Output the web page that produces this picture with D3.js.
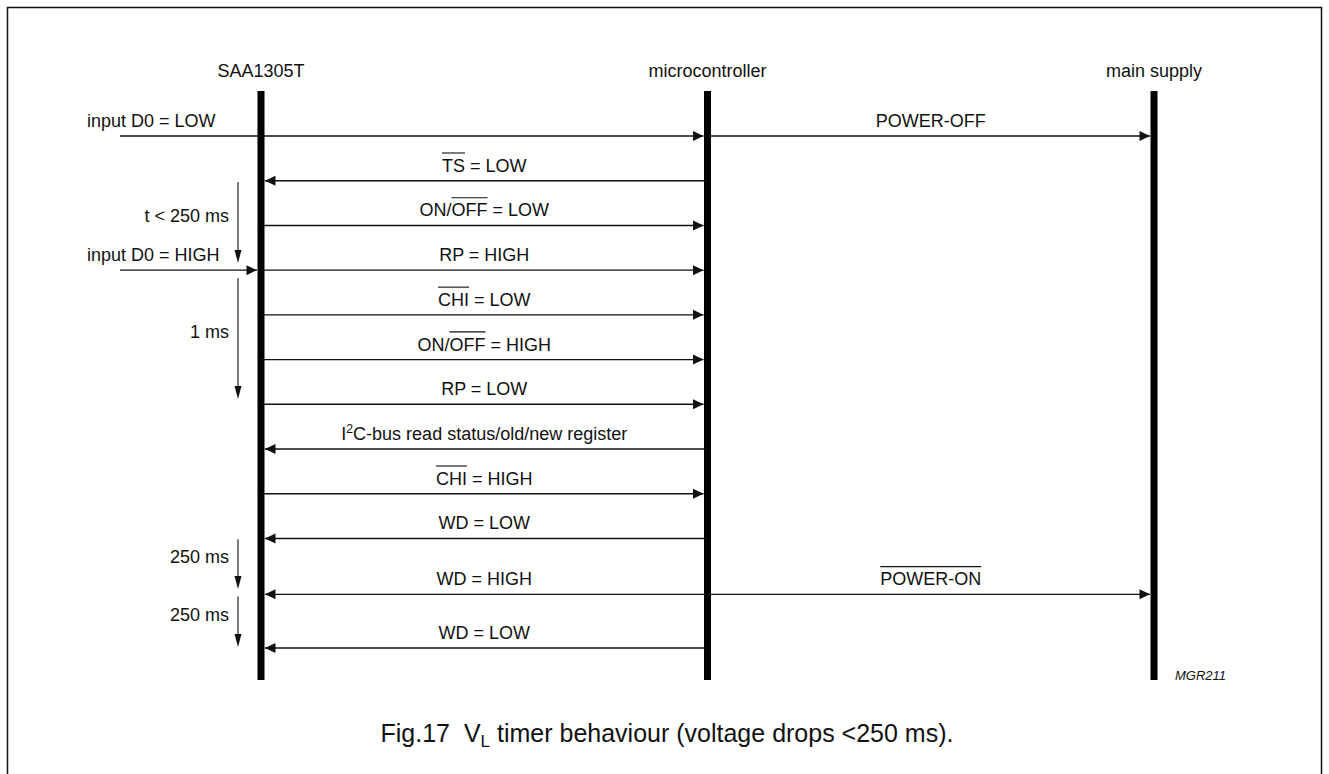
<!DOCTYPE html>
<html>
<head>
<meta charset="utf-8">
<script src="https://cdn.jsdelivr.net/npm/d3@7"></script>
<style>
  html, body { margin: 0; padding: 0; background: #fff; }
  svg { display: block; font-family: "Liberation Sans", Arial, Helvetica, sans-serif; }
</style>
</head>
<body>
<svg id="chart" width="1329" height="774"></svg>
<script>
// lifelines, left to right
const participants = ["SAA1305T", "microcontroller", "main supply"];

// message rows (slot = position in sequence)
const msgSlots = [0, 1, 2, 3, 4, 5, 6, 7, 8, 9, 10.25, 11.45];
const msgFrom = ["SAA1305T", "microcontroller", "SAA1305T", "SAA1305T", "SAA1305T", "SAA1305T",
  "SAA1305T", "microcontroller", "SAA1305T", "microcontroller", "microcontroller", "microcontroller"];
const msgTo = ["microcontroller", "SAA1305T", "microcontroller", "microcontroller", "microcontroller", "microcontroller",
  "microcontroller", "SAA1305T", "microcontroller", "SAA1305T", "SAA1305T", "SAA1305T"];
// label segments: [text, style]  style: "over" = overline, "sup" = superscript
const msgLabels = [
  [],
  [["TS", "over"], [" = LOW"]],
  [["ON/"], ["OFF", "over"], [" = LOW"]],
  [["RP = HIGH"]],
  [["CHI", "over"], [" = LOW"]],
  [["ON/"], ["OFF", "over"], [" = HIGH"]],
  [["RP = LOW"]],
  [["I"], ["2", "sup"], ["C-bus read status/old/new register"]],
  [["CHI", "over"], [" = HIGH"]],
  [["WD = LOW"]],
  [["WD = HIGH"]],
  [["WD = LOW"]]
];

// microcontroller -> main supply
const supplySlots = [0, 10.25];
const supplyLabels = [[["POWER-OFF"]], [["POWER-ON", "over"]]];

// external inputs into SAA1305T
const inputSlots = [0, 3];
const inputLabels = ["input D0 = LOW", "input D0 = HIGH"];
const inputHasHead = [false, true];

// timing intervals at the left of SAA1305T
const timingLabels = ["t < 250 ms", "1 ms", "250 ms", "250 ms"];
const timingStart = [1.03, 3.18, 9.02, 10.3];
const timingEnd = [2.84, 5.88, 10.13, 11.43];

const svg = d3.select("#chart");
const ink = "#111";
const labelSize = 18;
const lifeW = 7;

const x = d3.scalePoint().domain(participants).range([261, 1154]);
const y = d3.scaleLinear().domain([0, 11.45]).range([136, 648]);

// frame (open at the bottom)
svg.append("path")
  .attr("d", "M7.5,780V7.5H1321.5V780")
  .attr("fill", "none").attr("stroke", ink).attr("stroke-width", 1.5);

// headers + lifelines
svg.selectAll(".head")
  .data(participants)
  .join("text")
  .attr("class", "head")
  .attr("x", (d) => x(d))
  .attr("y", 77)
  .attr("text-anchor", "middle")
  .attr("font-size", labelSize)
  .attr("fill", ink)
  .text((d) => d);

svg.selectAll(".life")
  .data(participants)
  .join("rect")
  .attr("class", "life")
  .attr("x", (d) => x(d) - lifeW / 2)
  .attr("y", 91)
  .attr("width", lifeW)
  .attr("height", 680 - 91)
  .attr("fill", "#000");

const linesG = svg.append("g");
const headsG = svg.append("g");
const textG = svg.append("g");

// horizontal arrow: tip at x2
function hArrow(x1, x2, yy, head = true) {
  linesG.append("line")
    .attr("x1", x1).attr("x2", x2).attr("y1", yy).attr("y2", yy)
    .attr("stroke", ink).attr("stroke-width", 1.4);
  if (!head) return;
  const dir = x2 > x1 ? 1 : -1;
  headsG.append("path")
    .attr("d", `M${x2},${yy}L${x2 - dir * 10.5},${yy - 5}L${x2 - dir * 10.5},${yy + 5}Z`)
    .attr("fill", ink);
}

// rich label with overline / superscript segments
function richLabel(segs, cx, by, size, anchor = "middle") {
  const t = textG.append("text")
    .attr("x", cx).attr("y", by)
    .attr("text-anchor", anchor)
    .attr("font-size", size)
    .attr("fill", ink)
    .attr("xml:space", "preserve");
  const overs = [];
  let idx = 0;
  let lift = 0;
  for (const [str, style] of segs) {
    const sp = t.append("tspan").text(str);
    const want = style === "sup" ? -7 : 0;
    if (want !== lift) sp.attr("dy", want - lift);
    lift = want;
    if (style === "sup") sp.attr("font-size", size * 0.68);
    if (style === "over") overs.push([idx, idx + str.length - 1]);
    idx += str.length;
  }
  const node = t.node();
  for (const [a, b] of overs) {
    const xa = node.getStartPositionOfChar(a).x;
    const xb = node.getEndPositionOfChar(b).x;
    textG.append("line")
      .attr("x1", xa).attr("x2", xb)
      .attr("y1", by - size * 1.04).attr("y2", by - size * 1.04)
      .attr("stroke", ink).attr("stroke-width", 1.1);
  }
  return t;
}

// SAA1305T <-> microcontroller messages
msgSlots.forEach((s, i) => {
  const yy = y(s);
  const xf = x(msgFrom[i]);
  const xt = x(msgTo[i]);
  const dir = xt > xf ? 1 : -1;
  hArrow(xf, xt - dir * (lifeW / 2 + 0.5), yy);
  if (msgLabels[i].length) richLabel(msgLabels[i], (xf + xt) / 2, yy - 9, labelSize);
});

// microcontroller -> main supply
supplySlots.forEach((s, i) => {
  const yy = y(s);
  const xf = x("microcontroller");
  const xt = x("main supply");
  hArrow(xf, xt - (lifeW / 2 + 0.5), yy);
  richLabel(supplyLabels[i], (xf + xt) / 2, yy - 9, labelSize);
});

// external inputs
inputSlots.forEach((s, i) => {
  const yy = y(s);
  const xs = x("SAA1305T");
  hArrow(120, inputHasHead[i] ? xs - (lifeW / 2 + 0.5) : xs, yy, inputHasHead[i]);
  textG.append("text")
    .attr("x", 87).attr("y", yy - 9)
    .attr("font-size", labelSize).attr("fill", ink)
    .text(inputLabels[i]);
});

// timing arrows
const tx = x("SAA1305T") - 23;
timingLabels.forEach((lab, i) => {
  const y0 = y(timingStart[i]);
  const y1 = y(timingEnd[i]);
  linesG.append("line")
    .attr("x1", tx).attr("x2", tx).attr("y1", y0).attr("y2", y1 - 10)
    .attr("stroke", ink).attr("stroke-width", 1.1);
  headsG.append("path")
    .attr("d", `M${tx},${y1}L${tx - 3.5},${y1 - 13}L${tx + 3.5},${y1 - 13}Z`)
    .attr("fill", ink);
  textG.append("text")
    .attr("x", tx - 9)
    .attr("y", (y0 + y1) / 2 - 7)
    .attr("dy", "0.35em")
    .attr("text-anchor", "end")
    .attr("font-size", labelSize).attr("fill", ink)
    .text(lab);
});

// figure code
svg.append("text")
  .attr("x", 1175).attr("y", 680)
  .attr("font-size", 13).attr("font-style", "italic").attr("fill", ink)
  .text("MGR211");

// caption
const cap = svg.append("text")
  .attr("x", 667).attr("y", 742)
  .attr("text-anchor", "middle")
  .attr("font-size", 25).attr("fill", ink)
  .attr("xml:space", "preserve");
cap.append("tspan").text("Fig.17  V");
cap.append("tspan").attr("font-size", 17).attr("dy", 5).text("L");
cap.append("tspan").attr("dy", -5).text(" timer behaviour (voltage drops <250 ms).");
</script>
</body>
</html>
